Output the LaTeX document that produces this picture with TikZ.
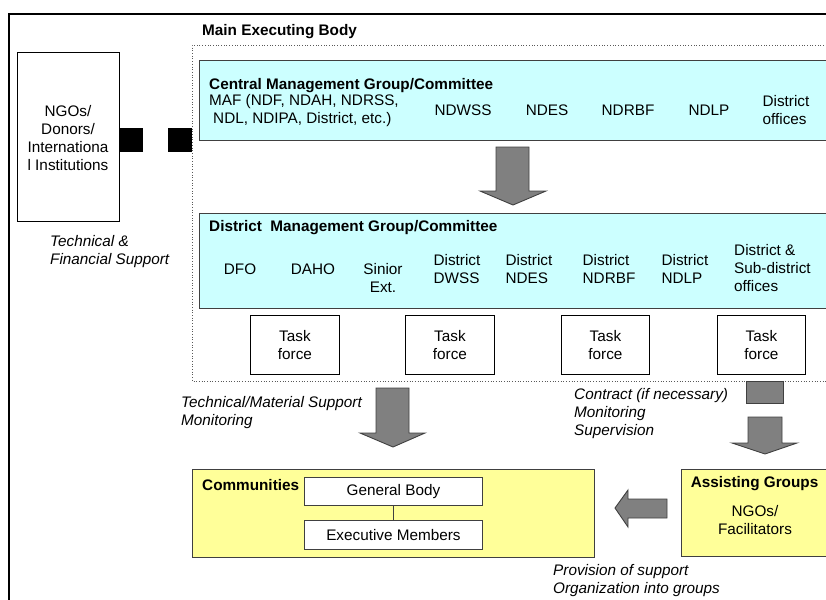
\documentclass[tikz,border=0pt]{standalone}
\usepackage{fontspec}
\setmainfont{Liberation Sans}
\definecolor{cyanfill}{HTML}{CCFFFF}
\definecolor{yellowfill}{HTML}{FFFF99}
\definecolor{arrowfill}{HTML}{808080}
\definecolor{edgegray}{HTML}{404040}
\newcommand{\diagfont}{\fontsize{15.3}{18}\selectfont}
\tikzset{
  txt/.style={inner sep=0pt, align=center, font=\diagfont},
  txtl/.style={txt, align=left, anchor=west},
  ttl/.style={txt, align=left, anchor=west, font=\diagfont\bfseries},
  itl/.style={txtl, font=\diagfont\itshape},
  panel/.style={draw=edgegray, line width=1.2pt, anchor=north west, inner sep=0pt},
  whitebox/.style={draw=black, line width=0.9pt, fill=white, anchor=north west, inner sep=0pt},
  blockarrow/.style={fill=arrowfill, draw=edgegray, line width=0.9pt, line join=miter},
}
\begin{document}
\begin{tikzpicture}[x=1pt,y=-1pt]
\useasboundingbox (0,0) rectangle (826,599);
\clip (0,0) rectangle (826,599);

% outer frame (only its top and left edges fall inside the page)
\draw[line width=2pt] (840,14) -- (9,14) -- (9,620);

% main executing body: dotted frame
\node[ttl] (mebtitle) at (202,32) {Main Executing Body};
\draw[gray!70!black, dotted, line width=0.7pt] (840,45) -- (192,45) -- (192,381) -- (840,381);

% donors box and the dashed link into the executing body
\node[whitebox, minimum width=102pt, minimum height=169pt] (donors) at (17,52) {};
\node[txt] (donorstxt) at (68,138) {NGOs/\\Donors/\\Internationa\\l Institutions};
\node[fill=black, inner sep=0pt, minimum width=24pt, minimum height=24pt, anchor=north west] (link1) at (119,128) {};
\node[fill=black, inner sep=0pt, minimum width=24pt, minimum height=24pt, anchor=north west] (link2) at (168,128) {};
\node[itl] (techfin) at (50,252) {Technical \&\\Financial Support};

% central management group
\node[panel, fill=cyanfill, minimum width=660pt, minimum height=80pt] (central) at (199,60) {};
\node[ttl] (centraltitle) at (209,86) {Central Management Group/Committee};
\node[txtl] (maf) at (209,110.5) {MAF (NDF, NDAH, NDRSS,\\\hspace{4pt}NDL, NDIPA, District, etc.)};
\node[txt] (ndwss) at (463,110) {NDWSS};
\node[txt] (ndes) at (547,110) {NDES};
\node[txt] (ndrbf) at (628,110) {NDRBF};
\node[txt] (ndlp) at (709,110) {NDLP};
\node[txt, align=left] (distoff) at (786,110) {District\\offices};

% arrow down to the district group
\draw[blockarrow] (496,147) -- (529,147) -- (529,191) -- (546,191) -- (513,205)
  -- (480,191) -- (496,191) -- cycle;

% district management group
\node[panel, fill=cyanfill, minimum width=660pt, minimum height=95pt] (district) at (199,213) {};
\node[ttl] (districttitle) at (209,228) {District\ \ Management Group/Committee};
\node[txt] (dfo) at (240,269) {DFO};
\node[txt] (daho) at (313,269) {DAHO};
\node[txt] (sinior) at (383,278) {Sinior\\Ext.};
\node[txt, align=left] (ddwss) at (457,269) {District\\DWSS};
\node[txt, align=left] (dndes) at (529,269) {District\\NDES};
\node[txt, align=left] (dndrbf) at (609,269) {District\\NDRBF};
\node[txt, align=left] (dndlp) at (685,269) {District\\NDLP};
\node[txtl] (dsub) at (734,268.5) {District \&\\Sub-district\\offices};

% task forces
\node[whitebox, minimum width=89pt, minimum height=59pt] (tf1) at (250,315) {};
\node[whitebox, minimum width=89pt, minimum height=59pt] (tf2) at (405,315) {};
\node[whitebox, minimum width=88pt, minimum height=59pt] (tf3) at (561,315) {};
\node[whitebox, minimum width=88pt, minimum height=59pt] (tf4) at (717,315) {};
\foreach \t in {tf1,tf2,tf3,tf4}
  \node[txt] at (\t.center) {Task\\force};

% technical / material support arrow to the communities
\node[itl] (techmat) at (181,413) {Technical/Material Support\\Monitoring};
\draw[blockarrow] (376,388) -- (409,388) -- (409,433) -- (425,433) -- (393,447)
  -- (360,433) -- (376,433) -- cycle;

% contract arrow (broken) to the assisting groups
\node[itl] (contract) at (574,414) {Contract (if necessary)\\Monitoring\\Supervision};
\draw[blockarrow] (746,381) rectangle (783,403);
\draw[blockarrow] (748,417) -- (782,417) -- (782,443) -- (797,443) -- (765,454)
  -- (732,443) -- (748,443) -- cycle;

% communities
\node[panel, draw=edgegray, line width=1pt, fill=yellowfill, minimum width=402pt, minimum height=88pt] (comm) at (192,469) {};
\node[ttl] (commtitle) at (202,485) {Communities};
\node[whitebox, draw=edgegray, minimum width=178pt, minimum height=28pt] (genbody) at (304,477) {};
\node[txt] at (genbody.center) {General Body};
\node[whitebox, draw=edgegray, minimum width=178pt, minimum height=29pt] (execm) at (304,520) {};
\node[txt] at (execm.center) {Executive Members};
\draw[edgegray, line width=0.8pt] (genbody.south) -- (execm.north);

% assisting groups
\node[panel, draw=edgegray, line width=1pt, fill=yellowfill, minimum width=170pt, minimum height=87pt] (assist) at (681,469) {};
\node[txt, font=\diagfont\bfseries] (assisttitle) at (754.5,484) {Assisting Groups};
\node[txt] (ngofac) at (755,520) {NGOs/\\Facilitators};

% arrow from assisting groups to communities
\draw[blockarrow] (667,499) -- (667,518) -- (628,518) -- (628,527) -- (615,508)
  -- (628,490) -- (628,499) -- cycle;
\node[itl] (provision) at (553,580.5) {Provision of support\\Organization into groups};
\end{tikzpicture}
\end{document}
